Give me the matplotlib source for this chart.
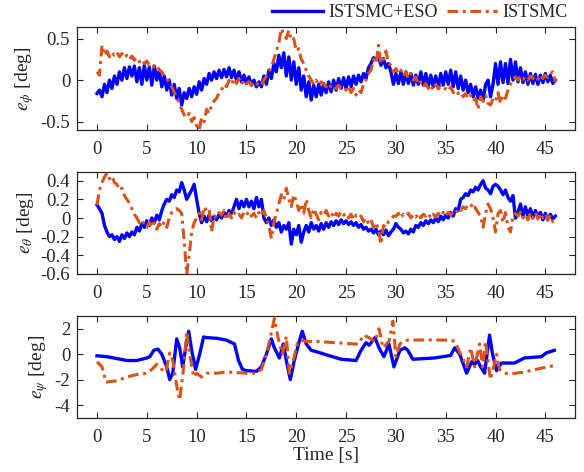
import matplotlib
matplotlib.use("Agg")
import matplotlib.pyplot as plt
import matplotlib.ticker as mticker
import numpy as np

plt.rcParams['font.family'] = ['Liberation Serif', 'DejaVu Serif']
plt.rcParams['mathtext.fontset'] = 'stix'
plt.rcParams['axes.unicode_minus'] = False

TXT = '#262626'
BLUE = '#0000ff'
ORANGE = '#d95319'

# sampled time base (s)
t = np.arange(0, 46.01, 0.25)

# roll error e_phi [deg]
phi_eso = [
    -0.16, -0.12, -0.2, -0.05, -0.15, 0.0, -0.1, 0.05, -0.05, 0.1, 0.0, 0.15, 0.02, 0.16, 0.05, 0.17, -0.02, 0.15, -0.05, 0.18,
    0.0, 0.16, -0.06, 0.17, 0.0, 0.12, -0.08, 0.05, -0.12, 0.0, -0.18, -0.05, -0.22, -0.1, -0.3, -0.15, -0.22, -0.1, -0.2, -0.08,
    -0.17, -0.02, -0.12, 0.02, -0.05, 0.08, 0.0, 0.1, 0.02, 0.12, 0.03, 0.13, 0.04, 0.15, 0.03, 0.12, 0.0, 0.1, -0.02, 0.06,
    -0.04, 0.04, -0.06, 0.0, -0.08, -0.02, -0.08, 0.05, -0.05, 0.12, 0.02, 0.2, 0.1, 0.3, 0.15, 0.33, 0.05, 0.28, 0.0, 0.22,
    -0.05, 0.15, -0.12, 0.05, -0.2, -0.02, -0.24, -0.06, -0.2, -0.05, -0.18, -0.04, -0.15, -0.02, -0.14, 0.0, -0.12, 0.02, -0.1, 0.03,
    -0.1, 0.04, -0.08, 0.05, -0.05, 0.06, -0.02, 0.08, 0.02, 0.15, 0.2, 0.27, 0.25, 0.28, 0.18, 0.26, 0.15, 0.2, 0.1, -0.05,
    0.08, -0.04, 0.1, -0.05, 0.1, -0.04, 0.08, -0.06, 0.06, -0.05, 0.1, -0.06, 0.08, -0.08, 0.06, -0.08, 0.05, -0.1, 0.08, -0.06,
    0.1, -0.05, 0.12, -0.08, 0.1, -0.1, 0.05, -0.12, 0.0, -0.15, -0.05, -0.2, -0.08, -0.22, -0.12, -0.25, -0.05, 0.0, -0.2, -0.05,
    0.2, -0.05, 0.22, -0.03, 0.2, -0.04, 0.25, 0.0, 0.22, -0.02, 0.15, -0.03, 0.1, -0.05, 0.08, -0.04, 0.07, -0.05, 0.06, -0.03,
    0.08, -0.02, 0.06, -0.04, 0.0]
phi_smc = [
    0.1, 0.06, 0.42, 0.3, 0.35, 0.28, 0.33, 0.3, 0.34, 0.28, 0.32, 0.27, 0.3, 0.25, 0.29, 0.24, 0.27, 0.22, 0.25, 0.2,
    0.23, 0.18, 0.2, 0.16, 0.18, 0.12, 0.1, 0.05, 0.02, -0.03, -0.08, -0.15, -0.2, -0.28, -0.35, -0.42, -0.45, -0.4, -0.5, -0.45,
    -0.55, -0.6, -0.45, -0.5, -0.35, -0.4, -0.3, -0.25, -0.22, -0.15, -0.12, -0.05, -0.08, 0.0, -0.05, 0.02, -0.04, 0.02, -0.05, 0.0,
    -0.04, -0.02, -0.06, -0.02, -0.05, -0.03, -0.06, 0.0, 0.05, 0.1, 0.15, 0.25, 0.35, 0.45, 0.62, 0.55, 0.5, 0.6, 0.48, 0.5,
    0.35, 0.38, 0.25, 0.2, 0.12, 0.05, 0.0, -0.05, 0.0, -0.06, -0.02, -0.05, -0.08, -0.04, -0.08, -0.06, -0.1, -0.06, -0.1, -0.08,
    -0.12, -0.08, -0.15, -0.1, -0.18, -0.12, -0.15, -0.05, 0.0, 0.08, 0.12, 0.25, 0.2, 0.42, 0.2, 0.25, 0.35, 0.2, 0.18, 0.1,
    0.14, 0.08, 0.12, 0.05, 0.1, 0.02, 0.08, 0.0, 0.04, -0.05, -0.02, -0.08, -0.04, -0.1, -0.06, -0.12, -0.05, -0.1, -0.08, -0.12,
    -0.1, -0.13, -0.08, -0.15, -0.12, -0.16, -0.14, -0.2, -0.16, -0.22, -0.18, -0.25, -0.22, -0.35, -0.2, -0.25, -0.18, -0.28, -0.3, -0.22,
    -0.25, -0.15, -0.28, -0.18, -0.22, -0.12, -0.05, 0.0, 0.04, 0.0, 0.05, 0.01, 0.04, 0.0, 0.05, 0.02, 0.05, 0.01, 0.06, 0.02,
    0.06, 0.03, 0.08, 0.1, -0.02]

# pitch error e_theta [deg]
theta_eso = [
    0.14, 0.1, 0.05, -0.08, -0.15, -0.2, -0.18, -0.23, -0.2, -0.25, -0.18, -0.22, -0.16, -0.2, -0.15, -0.18, -0.1, -0.14, -0.06, -0.1,
    -0.03, -0.08, 0.0, -0.05, 0.03, -0.02, 0.08, 0.15, 0.2, 0.18, 0.25, 0.22, 0.3, 0.28, 0.38, 0.3, 0.2, 0.25, 0.3, 0.36,
    0.2, 0.05, -0.05, 0.02, -0.04, 0.03, -0.03, 0.02, -0.02, 0.04, 0.0, 0.06, 0.02, 0.08, 0.05, 0.12, 0.2, 0.1, 0.18, 0.12,
    0.2, 0.12, 0.18, 0.1, 0.22, 0.12, 0.2, 0.0, -0.05, 0.0, -0.08, -0.02, -0.1, -0.05, -0.15, -0.08, -0.12, -0.05, -0.28, -0.12,
    -0.18, -0.08, -0.26, -0.15, -0.08, -0.15, -0.05, -0.12, -0.08, -0.14, -0.06, -0.12, -0.05, -0.1, -0.04, -0.08, -0.03, -0.07, -0.02, -0.06,
    -0.03, -0.07, -0.04, -0.08, -0.05, -0.1, -0.07, -0.12, -0.1, -0.14, -0.12, -0.16, -0.12, -0.18, -0.14, -0.18, -0.13, -0.19, -0.15, -0.12,
    -0.06, -0.1, -0.12, -0.16, -0.14, -0.17, -0.12, -0.15, -0.08, -0.1, -0.05, -0.08, -0.03, -0.06, -0.02, -0.05, 0.0, -0.04, 0.02, -0.02,
    0.03, 0.0, 0.06, 0.02, 0.1, 0.08, 0.2, 0.22, 0.26, 0.24, 0.3, 0.28, 0.33, 0.3, 0.36, 0.4, 0.32, 0.3, 0.26, 0.34,
    0.36, 0.34, 0.3, 0.25, 0.3, 0.22, 0.18, 0.24, 0.0, 0.06, 0.15, 0.02, 0.12, 0.02, 0.1, 0.0, 0.08, 0.02, 0.06, -0.02,
    0.05, -0.02, 0.04, -0.01, 0.02]
theta_smc = [
    0.14, 0.3, 0.38, 0.44, 0.48, 0.42, 0.45, 0.38, 0.36, 0.3, 0.32, 0.24, 0.2, 0.16, 0.1, 0.04, 0.0, -0.05, -0.02, -0.08,
    -0.1, -0.04, -0.1, -0.05, -0.12, -0.06, -0.1, -0.04, -0.1, 0.0, 0.06, 0.09, 0.1, 0.08, 0.05, -0.25, -0.6, -0.4, -0.15, -0.05,
    0.0, 0.05, -0.02, 0.12, 0.08, 0.1, -0.15, 0.02, 0.0, 0.06, 0.03, 0.08, -0.02, 0.05, 0.0, 0.06, 0.02, 0.04, 0.0, 0.06,
    0.03, 0.07, 0.02, 0.05, 0.0, 0.06, 0.02, 0.08, 0.0, -0.08, -0.22, -0.05, 0.05, 0.15, 0.25, 0.2, 0.32, 0.2, 0.12, 0.25,
    0.18, 0.08, 0.15, 0.05, 0.2, 0.08, 0.0, 0.1, 0.04, -0.02, 0.06, 0.03, 0.08, 0.02, 0.06, 0.0, 0.05, 0.02, 0.07, 0.03,
    0.05, 0.0, 0.04, -0.02, 0.03, 0.0, 0.02, -0.04, 0.0, -0.06, -0.02, -0.1, -0.05, -0.12, -0.28, -0.08, -0.1, -0.04, -0.02, 0.02,
    0.02, 0.05, 0.0, 0.04, 0.02, 0.05, 0.0, 0.04, 0.01, 0.05, 0.0, 0.04, 0.02, 0.05, 0.0, 0.04, 0.01, 0.05, 0.02, 0.06,
    0.02, 0.06, 0.03, 0.07, 0.05, 0.1, 0.08, 0.12, 0.1, 0.14, 0.12, 0.16, 0.1, 0.06, 0.02, -0.1, 0.05, 0.15, 0.1, 0.0,
    -0.15, 0.05, 0.08, -0.05, 0.06, -0.1, -0.15, 0.02, 0.05, 0.02, 0.06, 0.0, 0.04, -0.02, 0.05, 0.0, 0.06, -0.01, 0.05, 0.0,
    0.04, -0.02, 0.03, -0.04, 0.01]

# yaw error e_psi [deg], smooth -> irregular samples
t_psi_eso = [0, 1, 2, 3, 4, 5, 5.3, 5.7, 6.1, 6.5, 7, 7.3, 7.6, 8, 8.3, 8.6, 8.9, 9.2, 9.5, 9.9,
             10.3, 10.7, 11, 12, 13, 13.8, 14.2, 14.6, 15, 16, 16.5, 17, 17.5, 17.8, 18.3, 18.7, 19, 19.4, 19.8, 20.3,
             20.6, 21, 21.5, 22, 22.8, 24.5, 26, 26.5, 27, 27.3, 27.9, 28.3, 28.8, 29.3, 29.8, 30.4, 30.9, 31.2, 31.7, 33.9,
             35.5, 35.9, 36.4, 37.1, 37.6, 37.9, 38.2, 38.5, 38.9, 39.4, 39.7, 40.1, 40.6, 41.9, 42.9, 44.6, 45.1, 45.9]
psi_eso = [-0.13, -0.2, -0.35, -0.5, -0.5, -0.3, -0.2, 0.3, 0.4, 0.0, -1.0, -2.0, -1.5, 1.2, 0.5, -1.0, 0.5, 1.8, 0.3, -1.2,
           0.0, 1.35, 1.3, 1.25, 1.1, 0.8, -0.5, -1.2, -1.3, -1.35, -1.0, 0.0, 1.2, 0.5, -0.3, 0.8, -0.5, -2.0, -0.5, 1.0,
           1.8, 0.8, 0.3, 0.2, 0.0, -0.4, -0.5, 0.3, 0.9, 0.7, 1.3, 0.5, -0.2, 0.8, -1.0, 0.3, 0.5, 0.3, -0.4, -0.3,
           -0.1, 0.5, 0.0, -1.5, -0.6, -0.8, -0.5, -1.0, -1.5, 1.5, 0.0, -1.3, -0.7, -0.7, -0.3, -0.2, 0.1, 0.3]
t_psi_smc = [0, 0.5, 0.9, 2, 3, 4, 5, 5.5, 6, 6.5, 6.9, 7.3, 7.6, 8, 8.3, 8.7, 9, 9.3, 9.7, 10,
             10.5, 11, 12, 13, 14, 15, 16, 16.5, 17, 17.5, 17.8, 18.2, 18.6, 19, 19.3, 19.7, 20.1, 20.5, 21, 22,
             23, 25.8, 26.2, 26.8, 27.5, 27.9, 28.3, 28.7, 29.3, 29.7, 30.0, 30.4, 30.7, 31.2, 33, 35.5, 35.9, 36.5, 37.1, 37.5,
             37.9, 38.4, 38.7, 39.0, 39.4, 39.5, 40.1, 40.4, 40.9, 41.6, 42.9, 44.6, 45.9]
psi_smc = [-0.6, -1.0, -2.2, -2.1, -1.8, -1.6, -1.5, -1.2, -0.8, -1.2, -1.4, 0.1, -0.5, -2.5, -3.6, -1.0, 1.8, 0.0, -1.8, -1.5,
           -1.8, -1.5, -1.5, -1.4, -1.45, -1.5, -1.5, -1.2, 0.0, 1.7, 2.8, 1.2, 0.0, 1.4, -1.5, -0.5, 0.8, 1.1, 1.0, 1.0,
           0.95, 0.8, 0.8, 1.5, 1.2, 1.0, 2.0, 0.5, 1.0, 2.6, -0.2, 0.8, 1.0, 1.1, 1.12, 1.1, 1.0, 0.0, -1.0, 0.5,
           -1.0, 0.8, -1.0, 1.0, -1.5, -2.0, 0.0, -1.2, -1.5, -1.55, -1.4, -1.1, -0.9]

xticks = [0, 5, 10, 15, 20, 25, 30, 35, 40, 45]
ylabels = [r'$e_{\phi}$ [deg]', r'$e_{\theta}$ [deg]', r'$e_{\psi}$ [deg]']
ylims = [(-0.6, 0.64), (-0.6, 0.49), (-5, 3)]
yticks = [[-0.5, 0, 0.5], [-0.6, -0.4, -0.2, 0, 0.2, 0.4], [-4, -2, 0, 2]]

fig = plt.figure(figsize=(5.84, 4.72), dpi=100)
boxes = [[0.132, 0.7246, 0.853, 0.2182],
         [0.132, 0.4195, 0.853, 0.2155],
         [0.132, 0.1150, 0.853, 0.2155]]
series = [(t, phi_eso, t, phi_smc), (t, theta_eso, t, theta_smc),
          (t_psi_eso, psi_eso, t_psi_smc, psi_smc)]
dashdot = (0, (3.5, 1.5, 1.0, 1.5))

axes = []
for i, box in enumerate(boxes):
    ax = fig.add_axes(box)
    x1, y1, x2, y2 = series[i]
    l1, = ax.plot(x1, y1, color=BLUE, lw=2.4, label='ISTSMC+ESO')
    l2, = ax.plot(x2, y2, color=ORANGE, lw=2.2, ls=dashdot, label='ISTSMC')
    ax.set_xlim(-2, 48)
    ax.set_ylim(*ylims[i])
    ax.set_xticks(xticks)
    ax.set_yticks(yticks[i])
    ax.yaxis.set_major_formatter(mticker.FormatStrFormatter('%g'))
    ax.tick_params(direction='in', top=True, right=True, length=4, width=0.8,
                   labelsize=13.5, colors=TXT)
    ax.tick_params(axis='x', pad=8)
    ax.tick_params(axis='y', pad=5)
    for s in ax.spines.values():
        s.set_color(TXT)
        s.set_linewidth(0.9)
    ax.set_ylabel(ylabels[i], fontsize=14, color=TXT, labelpad=3)
    axes.append(ax)

axes[2].set_xlabel('Time [s]', fontsize=14, color=TXT, labelpad=1)

fig.legend(handles=[l1, l2], loc='upper right', bbox_to_anchor=(1.0, 1.025),
           ncol=2, frameon=False, fontsize=13, handlelength=2.8,
           handletextpad=0.3, columnspacing=0.5, labelcolor=TXT)

fig.savefig('out.png', dpi=100)
